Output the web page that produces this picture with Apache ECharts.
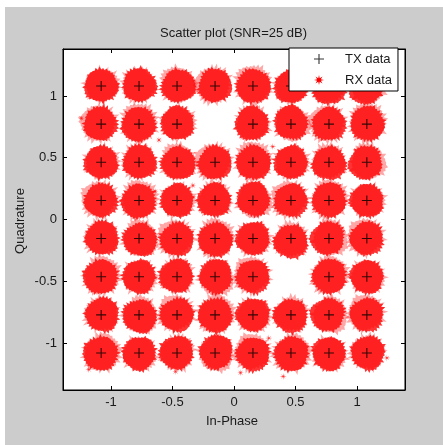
<!DOCTYPE html>
<html><head><meta charset="utf-8">
<script src="https://cdn.jsdelivr.net/npm/echarts@6/dist/echarts.min.js"></script>
<style>html,body{margin:0;padding:0;background:#fff}#c{width:443px;height:445px}</style>
</head><body><div id="c"></div>
<script>
const chartTitle = 'Scatter plot (SNR=25 dB)';
const xName = 'In-Phase';
const yName = 'Quadrature';
const xTicks = [-1, -0.5, 0, 0.5, 1];
const yTicks = [-1, -0.5, 0, 0.5, 1];
const xRange = [-1.39, 1.39];
const yRange = [-1.38, 1.38];

// Transmitted constellation points [I, Q] (row by row, top to bottom)
const txData = [
  [-1.08, 1.08], [-0.772, 1.08], [-0.463, 1.08], [-0.154, 1.08], [0.154, 1.08], [0.463, 1.08], [0.772, 1.08], [1.08, 1.08],
  [-1.08, 0.772], [-0.772, 0.772], [-0.463, 0.772], [0.154, 0.772], [0.463, 0.772], [0.772, 0.772], [1.08, 0.772],
  [-1.08, 0.463], [-0.772, 0.463], [-0.463, 0.463], [-0.154, 0.463], [0.154, 0.463], [0.463, 0.463], [0.772, 0.463], [1.08, 0.463],
  [-1.08, 0.154], [-0.772, 0.154], [-0.463, 0.154], [-0.154, 0.154], [0.154, 0.154], [0.463, 0.154], [0.772, 0.154], [1.08, 0.154],
  [-1.08, -0.154], [-0.772, -0.154], [-0.463, -0.154], [-0.154, -0.154], [0.154, -0.154], [0.463, -0.154], [0.772, -0.154], [1.08, -0.154],
  [-1.08, -0.463], [-0.772, -0.463], [-0.463, -0.463], [-0.154, -0.463], [0.154, -0.463], [0.772, -0.463], [1.08, -0.463],
  [-1.08, -0.772], [-0.772, -0.772], [-0.463, -0.772], [-0.154, -0.772], [0.154, -0.772], [0.463, -0.772], [0.772, -0.772], [1.08, -0.772],
  [-1.08, -1.08], [-0.772, -1.08], [-0.463, -1.08], [-0.154, -1.08], [0.154, -1.08], [0.463, -1.08], [0.772, -1.08], [1.08, -1.08]
];

// Received symbol clouds: centroid of each noisy cluster [I, Q]
const rxClusters = [
  [-1.08, 1.085], [-0.772, 1.08], [-0.463, 1.085], [-0.154, 1.085], [0.154, 1.08], [0.463, 1.075], [0.772, 1.075], [1.08, 1.075],
  [-1.085, 0.775], [-0.772, 0.772], [-0.46, 0.78], [0.154, 0.775], [0.463, 0.772], [0.772, 0.772], [1.085, 0.772],
  [-1.08, 0.463], [-0.772, 0.46], [-0.463, 0.463], [-0.154, 0.46], [0.154, 0.463], [0.463, 0.463], [0.772, 0.463], [1.08, 0.463],
  [-1.08, 0.154], [-0.772, 0.15], [-0.463, 0.154], [-0.154, 0.154], [0.154, 0.154], [0.463, 0.154], [0.772, 0.154], [1.08, 0.154],
  [-1.08, -0.154], [-0.772, -0.154], [-0.463, -0.16], [-0.154, -0.16], [0.154, -0.154], [0.463, -0.17], [0.772, -0.15], [1.08, -0.154],
  [-1.08, -0.463], [-0.772, -0.463], [-0.463, -0.463], [-0.154, -0.47], [0.154, -0.463], [0.772, -0.463], [1.08, -0.463],
  [-1.08, -0.772], [-0.772, -0.772], [-0.463, -0.772], [-0.154, -0.772], [0.154, -0.772], [0.463, -0.772], [0.772, -0.772], [1.08, -0.772],
  [-1.08, -1.085], [-0.772, -1.085], [-0.463, -1.085], [-0.154, -1.08], [0.154, -1.09], [0.463, -1.09], [0.772, -1.085], [1.08, -1.08]
];

// Isolated received samples lying between clusters [I, Q]
const rxStray = [
  [-0.61, 0.644], [0.315, 0.59], [-0.334, 0.275], [-0.475, -1.23], [0.283, -0.96],
  [-1.18, -1.215], [0.053, -1.24], [0.40, -1.27], [-0.64, 0.226], [-1.24, 0.82], [1.243, -1.12]
];

const FONT = '"Liberation Sans", Arial, Helvetica, sans-serif';
const TXT = '#1a1a1a';

function hash(k, s) { const v = Math.sin(k * 12.9898 + s * 78.233) * 43758.5453; return v - Math.floor(v); }
function blobPath(seed, n, inner, spread) {
  const pts = [];
  for (let k = 0; k < n; k++) {
    const a = k / n * 2 * Math.PI;
    const wob = 3 * Math.sin(a * 3 + seed) + 2 * Math.sin(a * 5 + seed * 2.1);
    const r = (k % 2 === 0) ? inner + wob + 3 * hash(k, seed) : inner + 4 + wob + spread * Math.pow(hash(k + 500, seed), 1.4);
    pts.push((100 + r * Math.cos(a)).toFixed(1) + ',' + (100 + r * Math.sin(a)).toFixed(1));
  }
  return 'path://M' + pts.join('L') + 'Z';
}
function starPath(inner) {
  const pts = [];
  for (let k = 0; k < 16; k++) {
    const a = k / 16 * 2 * Math.PI;
    const r = (k % 2 === 0) ? 10 : inner;
    pts.push((10 + r * Math.cos(a)).toFixed(2) + ',' + (10 + r * Math.sin(a)).toFixed(2));
  }
  return 'path://M' + pts.join('L') + 'Z';
}
const cores = [0.3, 1.7, 3.1, 4.6, 5.9].map(s => blobPath(s, 64, 80, 16));
const halos = [2.2, 3.9, 0.8, 5.1, 6.6].map(s => blobPath(s, 56, 74, 26));
const plusPath = 'path://M0,4.45L10,4.45L10,5.55L0,5.55Z M4.45,0L5.55,0L5.55,10L4.45,10Z';
const star = starPath(2.2);
const legendStar = starPath(4);

const chart = echarts.init(document.getElementById('c'), null, {renderer: 'canvas'});

function axisCommon(vals, show) {
  return {
    type: 'value',
    axisLine: {show: true, onZero: false, lineStyle: {color: '#000', width: 1}},
    axisTick: {show: true, inside: true, length: 4, customValues: vals, lineStyle: {color: '#000'}},
    axisLabel: {show: show, customValues: vals, color: TXT, fontSize: 13, fontFamily: FONT, margin: 6},
    splitLine: {show: false}
  };
}

chart.setOption({
  backgroundColor: '#cccccc',
  animation: false,
  grid: {left: 63, top: 49, width: 342, height: 341, show: true, backgroundColor: '#fff', borderColor: '#000', borderWidth: 1},
  xAxis: [
    Object.assign(axisCommon(xTicks, true), {position: 'bottom', min: xRange[0], max: xRange[1]}),
    Object.assign(axisCommon(xTicks, false), {position: 'top', min: xRange[0], max: xRange[1]})
  ],
  yAxis: [
    Object.assign(axisCommon(yTicks, true), {position: 'left', min: yRange[0], max: yRange[1]}),
    Object.assign(axisCommon(yTicks, false), {position: 'right', min: yRange[0], max: yRange[1]})
  ],
  legend: {
    orient: 'vertical', left: 289, top: 48,
    padding: [4, 6, 4, 25], itemGap: 7, itemWidth: 10, itemHeight: 10,
    backgroundColor: '#fff', borderColor: '#000', borderWidth: 1,
    selectedMode: false,
    textStyle: {fontFamily: FONT, fontSize: 13, color: TXT, padding: [0, 0, 0, 16], lineHeight: 14},
    data: [
      {name: 'TX data', icon: plusPath, itemStyle: {color: '#000'}},
      {name: 'RX data', icon: legendStar, itemStyle: {color: '#ff0000', opacity: 1}}
    ]
  },
  graphic: [
    {type: 'rect', shape: {x: 0, y: 0, width: 443, height: 7}, style: {fill: '#fff'}, silent: true},
    {type: 'rect', shape: {x: 0, y: 0, width: 5, height: 445}, style: {fill: '#fff'}, silent: true},
    {type: 'text', x: 233.5, y: 33, style: {text: chartTitle, fill: TXT, font: '13px ' + FONT, textAlign: 'center', textVerticalAlign: 'middle'}},
    {type: 'text', x: 232, y: 421, style: {text: xName, fill: TXT, font: '13px ' + FONT, textAlign: 'center', textVerticalAlign: 'middle'}},
    {type: 'text', x: 20, y: 221, rotation: Math.PI / 2, style: {text: yName, fill: TXT, font: '13px ' + FONT, textAlign: 'center', textVerticalAlign: 'middle'}}
  ],
  series: [
    {
      name: 'RX data', type: 'scatter', data: rxClusters,
      symbol: function (v, p) { return halos[p.dataIndex % 5]; },
      symbolRotate: function (v, p) { return (p.dataIndex * 71) % 360; },
      symbolSize: 42,
      itemStyle: {color: '#ff0000', opacity: 0.35},
      emphasis: {disabled: true}, z: 1
    },
    {
      name: 'RX data', type: 'scatter', data: rxClusters,
      symbol: function (v, p) { return cores[(p.dataIndex * 3) % 5]; },
      symbolRotate: function (v, p) { return (p.dataIndex * 47) % 360; },
      symbolSize: 38,
      itemStyle: {color: '#ff0000'},
      emphasis: {disabled: true}, z: 2
    },
    {
      name: 'RX data', type: 'scatter', data: rxStray,
      symbol: star, symbolSize: 7,
      itemStyle: {color: '#ff0000'}, emphasis: {disabled: true}, z: 2
    },
    {
      name: 'TX data', type: 'scatter', data: txData,
      symbol: plusPath, symbolSize: 10,
      itemStyle: {color: '#000'}, emphasis: {disabled: true}, z: 3
    }
  ]
});
</script></body></html>
